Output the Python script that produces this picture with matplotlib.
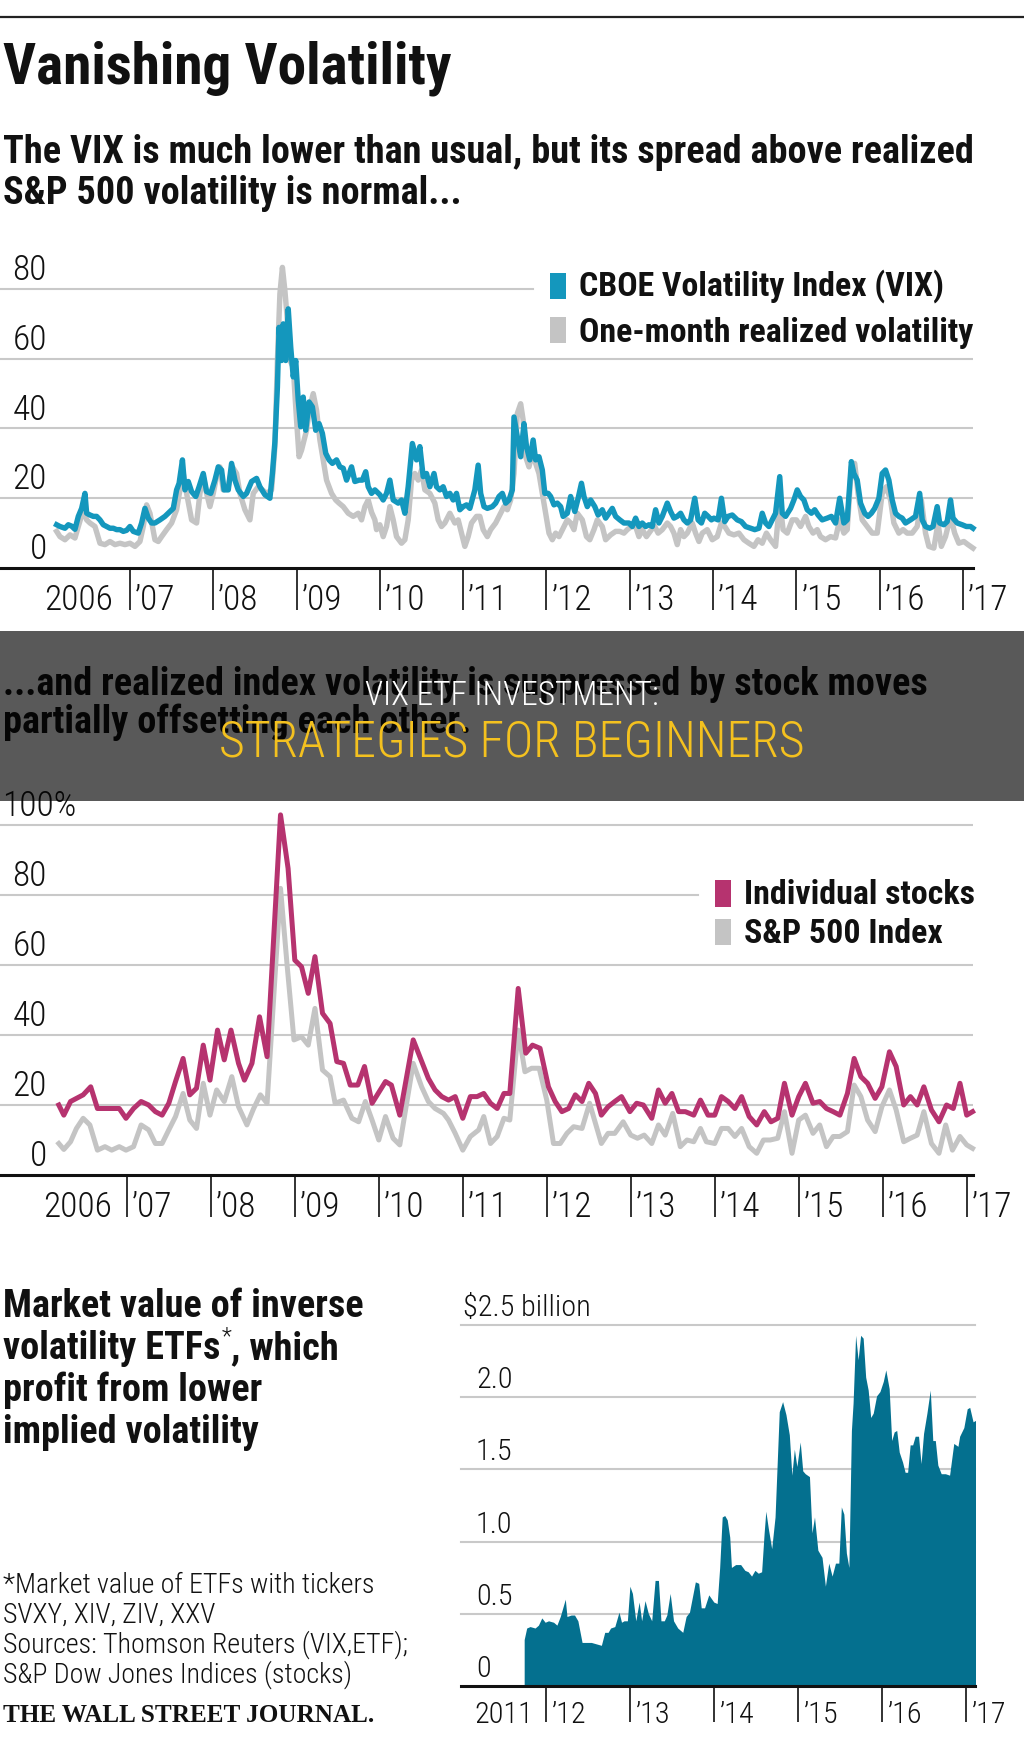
import matplotlib
matplotlib.use('Agg')
import matplotlib.pyplot as plt
import matplotlib.transforms as mtransforms
from matplotlib import font_manager as fm
from matplotlib.patches import Rectangle
from matplotlib.lines import Line2D

# ------------------------------------------------------------------ data
# Chart 1: CBOE VIX and one-month realized S&P 500 volatility (decimal year, value)
vix = [(2006.12,12.4),(2006.16,11.9),(2006.22,11.4),(2006.26,12.4),(2006.30,12.0),(2006.34,11.1),(2006.38,14.8),(2006.42,17.1),(2006.46,21.4),(2006.48,15.7),(2006.52,15.2),(2006.56,14.8),(2006.60,14.8),(2006.64,13.8),(2006.68,12.4),(2006.72,11.9),(2006.76,11.4),(2006.80,11.4),(2006.84,11.0),(2006.88,11.0),(2006.92,10.5),(2006.96,10.8),(2007.00,11.9),(2007.04,10.5),(2007.10,10.0),(2007.14,12.9),(2007.18,17.1),(2007.22,14.3),(2007.26,12.9),(2007.30,12.9),(2007.36,13.8),(2007.42,14.8),(2007.48,16.2),(2007.52,17.1),(2007.56,22.4),(2007.59,24.3),(2007.63,31.0),(2007.66,22.4),(2007.70,24.8),(2007.74,21.9),(2007.79,20.5),(2007.83,23.3),(2007.88,27.1),(2007.92,21.9),(2007.97,21.4),(2008.02,25.2),(2008.06,29.0),(2008.10,28.1),(2008.13,22.4),(2008.18,22.4),(2008.22,30.0),(2008.26,25.2),(2008.30,22.4),(2008.36,20.5),(2008.40,21.4),(2008.46,24.8),(2008.52,25.7),(2008.56,23.3),(2008.62,21.0),(2008.68,20.0),(2008.71,27.1),(2008.74,36.2),(2008.77,51.9),(2008.79,69.0),(2008.82,59.5),(2008.84,70.0),(2008.87,59.5),(2008.90,74.3),(2008.93,63.3),(2008.96,54.8),(2008.99,59.5),(2009.02,48.1),(2009.05,40.5),(2009.08,49.0),(2009.11,39.5),(2009.15,47.6),(2009.19,46.2),(2009.23,39.5),(2009.27,41.4),(2009.31,38.6),(2009.35,32.9),(2009.39,31.0),(2009.43,30.0),(2009.48,31.0),(2009.52,29.0),(2009.56,28.6),(2009.60,25.2),(2009.66,29.0),(2009.70,24.8),(2009.75,25.2),(2009.79,25.2),(2009.83,27.6),(2009.86,23.3),(2009.90,21.4),(2009.94,22.4),
       (2010.00,21.0),(2010.04,19.5),(2010.08,21.4),(2010.12,25.2),(2010.16,19.5),(2010.22,18.6),(2010.26,19.5),(2010.30,15.7),(2010.34,23.3),(2010.39,35.7),(2010.44,31.0),(2010.48,34.8),(2010.52,26.2),(2010.56,27.1),(2010.60,23.3),(2010.65,27.1),(2010.68,23.3),(2010.72,22.4),(2010.76,23.3),(2010.80,20.5),(2010.84,21.4),(2010.88,19.5),(2010.92,21.4),(2010.96,16.7),(2011.00,17.6),(2011.04,18.1),(2011.08,17.1),(2011.14,22.4),(2011.18,29.5),(2011.21,21.4),(2011.25,17.6),(2011.29,17.1),(2011.35,17.6),(2011.39,18.6),(2011.43,20.5),(2011.47,21.4),(2011.51,18.6),(2011.55,19.5),(2011.59,22.4),(2011.61,43.3),(2011.65,37.6),(2011.69,31.9),(2011.73,41.4),(2011.76,34.8),(2011.80,31.0),(2011.84,36.7),(2011.87,31.0),(2011.91,31.9),(2011.95,28.1),(2011.98,21.4),(2012.02,21.4),(2012.05,20.5),(2012.09,18.1),(2012.13,18.6),(2012.17,17.6),(2012.20,14.8),(2012.25,15.7),(2012.29,20.5),(2012.34,16.2),(2012.38,20.0),(2012.42,24.3),(2012.45,20.5),(2012.49,17.6),(2012.53,19.5),(2012.58,17.6),(2012.62,15.2),(2012.67,16.7),(2012.71,14.3),(2012.75,15.7),(2012.79,17.1),(2012.83,14.8),(2012.88,13.8),(2012.93,12.9),(2012.99,12.9),(2013.03,11.9),(2013.07,14.3),(2013.11,11.9),(2013.15,12.9),(2013.19,11.9),(2013.23,12.4),(2013.27,11.9),(2013.31,16.7),(2013.35,12.9),(2013.39,14.8),(2013.45,18.6),(2013.49,16.2),(2013.53,14.3),(2013.57,14.8),
       (2013.61,15.7),(2013.65,13.8),(2013.69,12.9),(2013.73,13.8),(2013.78,20.0),(2013.82,13.8),(2013.86,12.9),(2013.90,15.7),(2013.94,14.8),(2013.98,13.8),(2014.01,14.3),(2014.06,13.8),(2014.10,20.0),(2014.14,13.3),(2014.18,14.8),(2014.23,15.2),(2014.29,13.8),(2014.34,13.3),(2014.39,11.9),(2014.45,11.4),(2014.50,11.0),(2014.55,11.4),(2014.59,15.7),(2014.63,12.9),(2014.67,11.9),(2014.75,15.7),(2014.80,26.2),(2014.83,15.7),(2014.87,14.8),(2014.93,17.1),(2014.97,19.5),(2015.01,22.4),(2015.05,20.5),(2015.09,19.5),(2015.13,16.7),(2015.18,15.7),(2015.22,16.7),(2015.26,15.2),(2015.31,13.8),(2015.37,14.3),(2015.42,14.8),(2015.47,12.9),(2015.52,20.0),(2015.57,12.9),(2015.61,13.8),(2015.66,30.5),(2015.69,27.1),(2015.73,25.2),(2015.77,18.6),(2015.82,15.7),(2015.86,14.8),(2015.90,15.7),(2015.94,17.1),(2015.99,20.0),(2016.03,27.1),(2016.07,28.1),(2016.11,25.2),(2016.15,19.5),(2016.19,15.7),(2016.23,14.8),(2016.27,14.3),(2016.31,12.9),(2016.37,13.8),(2016.43,14.8),(2016.48,21.4),(2016.51,13.8),(2016.55,11.9),(2016.60,11.4),(2016.64,11.9),(2016.69,17.6),(2016.72,12.9),(2016.77,12.4),(2016.81,13.3),(2016.85,19.5),(2016.88,14.3),(2016.93,12.9),(2016.99,12.4),(2017.04,11.9),(2017.09,11.9),(2017.12,11.4)]

realized = [(2006.12,10.5),(2006.16,9.0),(2006.22,8.1),(2006.28,9.5),(2006.34,8.6),(2006.38,11.9),(2006.44,16.7),(2006.48,13.8),(2006.52,12.9),(2006.58,11.9),(2006.64,7.1),(2006.70,6.7),(2006.76,7.6),(2006.82,6.7),(2006.88,7.1),(2006.94,6.7),(2007.00,7.1),(2007.06,6.2),(2007.12,7.6),(2007.16,11.9),(2007.20,18.1),(2007.24,15.7),(2007.30,8.1),(2007.34,7.6),(2007.38,9.0),(2007.44,11.0),(2007.50,12.9),(2007.56,16.7),(2007.60,22.4),(2007.64,27.1),(2007.68,21.4),(2007.74,13.8),(2007.80,12.9),(2007.84,21.4),(2007.88,26.2),(2007.92,21.4),(2007.96,17.6),(2008.00,21.4),(2008.04,26.2),(2008.08,29.0),(2008.12,22.4),(2008.18,23.3),(2008.23,29.0),(2008.28,27.1),(2008.32,21.4),(2008.38,16.7),(2008.44,13.8),(2008.48,21.4),(2008.54,23.3),(2008.59,22.4),(2008.64,21.4),(2008.70,22.4),(2008.74,34.8),(2008.77,59.5),(2008.80,78.6),(2008.83,86.2),(2008.86,79.5),(2008.89,71.0),(2008.92,59.5),(2008.96,57.6),(2009.00,42.4),(2009.03,31.9),(2009.06,33.8),(2009.09,36.7),(2009.12,39.5),(2009.16,46.2),(2009.20,50.0),(2009.24,45.2),(2009.28,36.7),(2009.32,31.0),(2009.36,25.2),(2009.42,21.4),(2009.47,19.5),(2009.51,18.6),(2009.56,17.6),(2009.62,15.7),(2009.68,14.8),(2009.74,15.7),(2009.78,13.8),(2009.82,17.6),(2009.86,19.5),(2009.90,16.0),(2009.94,13.8),
            (2009.96,11.0),(2010.00,12.4),(2010.04,9.0),(2010.08,11.9),(2010.12,17.6),(2010.16,13.8),(2010.20,9.0),(2010.26,7.1),(2010.30,8.1),(2010.34,13.8),(2010.38,25.2),(2010.42,27.1),(2010.46,25.2),(2010.50,28.1),(2010.54,22.4),(2010.60,21.4),(2010.66,18.6),(2010.70,13.8),(2010.74,11.9),(2010.78,12.9),(2010.84,15.7),(2010.90,12.9),(2010.94,13.8),(2010.98,10.0),(2011.02,6.2),(2011.06,9.0),(2011.10,12.9),(2011.16,14.8),(2011.20,14.8),(2011.24,11.0),(2011.29,9.0),(2011.33,11.0),(2011.39,12.9),(2011.45,15.7),(2011.49,17.6),(2011.53,16.7),(2011.57,19.5),(2011.61,27.1),(2011.65,44.3),(2011.69,47.1),(2011.72,42.4),(2011.75,31.9),(2011.79,29.0),(2011.83,32.9),(2011.87,30.0),(2011.91,27.1),(2011.95,21.4),(2011.99,15.7),(2012.03,10.0),(2012.07,8.1),(2012.11,10.0),(2012.15,9.0),(2012.21,11.9),(2012.25,13.8),(2012.29,12.9),(2012.33,11.0),(2012.37,15.7),(2012.43,13.8),(2012.48,9.0),(2012.52,8.1),(2012.57,11.0),(2012.61,13.8),(2012.67,11.9),(2012.71,8.1),(2012.77,9.5),(2012.83,10.5),(2012.88,10.5),(2012.93,10.0),(2012.97,11.0),(2013.02,11.9),(2013.07,11.9),(2013.11,9.0),(2013.15,11.0),(2013.20,9.0),(2013.26,11.0),(2013.30,11.9),(2013.34,10.0),(2013.39,11.0),(2013.45,12.9),(2013.49,11.9),(2013.53,10.0),(2013.57,6.7),
            (2013.61,11.0),(2013.65,9.0),(2013.69,10.0),(2013.75,12.9),(2013.79,10.0),(2013.83,7.6),(2013.87,10.0),(2013.93,11.0),(2013.99,8.1),(2014.05,9.0),(2014.10,12.9),(2014.14,11.9),(2014.19,10.0),(2014.25,9.5),(2014.31,10.0),(2014.37,8.1),(2014.43,7.1),(2014.49,6.2),(2014.54,8.1),(2014.59,7.1),(2014.64,10.0),(2014.69,8.1),(2014.75,6.2),(2014.80,19.5),(2014.84,11.0),(2014.89,10.0),(2014.95,13.8),(2015.00,13.8),(2015.05,11.9),(2015.11,14.8),(2015.15,11.9),(2015.20,10.0),(2015.25,11.0),(2015.29,9.0),(2015.35,8.1),(2015.41,9.0),(2015.47,8.6),(2015.52,13.8),(2015.57,10.0),(2015.61,11.0),(2015.66,29.0),(2015.70,30.0),(2015.74,21.4),(2015.79,13.8),(2015.85,11.9),(2015.91,10.0),(2015.97,10.0),(2016.03,21.4),(2016.08,23.3),(2016.13,19.5),(2016.17,12.9),(2016.23,10.0),(2016.28,11.0),(2016.33,10.0),(2016.39,10.0),(2016.45,11.9),(2016.50,19.5),(2016.55,10.0),(2016.59,6.2),(2016.65,5.7),(2016.70,12.9),(2016.74,6.2),(2016.79,9.0),(2016.85,14.8),(2016.90,10.0),(2016.95,7.1),(2017.01,7.6),(2017.06,6.7),(2017.12,5.7)]

# Chart 2: realized volatility, individual stocks vs S&P 500 index (%)
stocks = [(2006.19,20.0),(2006.25,17.1),(2006.33,21.0),(2006.40,21.9),(2006.48,22.9),(2006.57,25.2),(2006.65,19.0),(2006.74,19.0),(2006.82,19.0),(2006.91,19.0),(2006.99,16.2),(2007.08,19.0),(2007.17,21.0),(2007.26,20.0),(2007.34,18.1),(2007.42,17.1),(2007.50,20.5),(2007.58,26.7),(2007.67,33.3),(2007.75,22.9),(2007.83,24.8),(2007.91,37.1),(2007.99,27.1),(2008.08,41.4),(2008.16,32.9),(2008.24,41.4),(2008.33,31.9),(2008.40,27.1),(2008.49,31.9),(2008.58,45.2),(2008.67,33.8),(2008.83,102.9),(2008.92,87.6),(2009.00,61.4),(2009.08,59.5),(2009.16,51.9),(2009.24,62.4),(2009.33,46.2),(2009.42,43.3),(2009.50,32.4),(2009.58,31.9),(2009.66,25.7),(2009.75,25.7),(2009.83,31.0),(2009.92,20.5),(2010.08,26.7),(2010.15,25.7),(2010.25,17.1),(2010.41,38.6),(2010.59,27.6),(2010.67,24.3),(2010.75,22.4),(2010.83,21.4),(2010.91,22.4),(2011.00,16.2),(2011.09,22.4),(2011.17,22.4),(2011.25,23.3),(2011.33,20.5),(2011.41,19.0),(2011.49,23.3),(2011.56,23.3),(2011.66,53.3),(2011.75,34.8),(2011.83,37.1),(2011.92,36.2),(2012.02,25.2),(2012.10,21.0),(2012.18,18.1),(2012.26,19.0),(2012.34,22.9),(2012.42,21.0),(2012.50,26.2),(2012.58,23.3),(2012.65,17.1),(2012.73,19.5),(2012.81,21.0),(2012.89,22.4),(2012.99,18.1),(2013.07,20.5),(2013.15,20.0),(2013.25,16.2),(2013.33,24.3),(2013.41,20.5),(2013.49,23.3),(2013.57,18.1),(2013.65,18.1),(2013.75,17.1),(2013.83,21.4),(2013.92,17.1),(2014.00,17.1),(2014.08,22.4),(2014.16,21.0),(2014.24,19.0),(2014.32,22.4),(2014.41,16.7),(2014.50,14.3),(2014.59,18.1),(2014.67,15.2),(2014.75,16.2),(2014.83,26.2),(2014.92,17.1),(2015.00,22.4),(2015.08,26.2),(2015.17,20.5),(2015.25,21.0),(2015.33,19.0),(2015.41,18.1),(2015.49,17.1),(2015.58,23.3),(2015.66,33.3),(2015.74,28.1),(2015.82,26.2),(2015.91,21.9),(2015.99,25.2),(2016.08,35.2),(2016.16,31.0),(2016.25,20.0),(2016.33,22.4),(2016.41,20.0),(2016.49,25.2),(2016.58,18.6),(2016.67,15.2),(2016.76,20.0),(2016.84,19.0),(2016.92,26.2),(2017.00,17.1),(2017.07,18.1)]

spx = [(2006.19,9.0),(2006.25,7.3),(2006.33,9.5),(2006.40,13.3),(2006.48,16.2),(2006.56,14.3),(2006.65,7.1),(2006.74,8.1),(2006.82,7.1),(2006.91,8.1),(2006.99,7.1),(2007.08,8.1),(2007.17,14.3),(2007.26,12.9),(2007.34,9.0),(2007.42,9.0),(2007.50,12.9),(2007.58,16.7),(2007.67,23.3),(2007.75,15.7),(2007.83,13.3),(2007.91,26.2),(2007.99,17.1),(2008.07,24.3),(2008.16,21.0),(2008.25,28.1),(2008.33,19.5),(2008.43,14.3),(2008.51,19.0),(2008.59,22.9),(2008.67,20.5),(2008.83,81.9),(2008.91,59.5),(2008.99,38.6),(2009.08,39.5),(2009.16,37.1),(2009.24,47.6),(2009.33,30.0),(2009.42,28.1),(2009.48,20.5),(2009.58,21.4),(2009.68,16.2),(2009.76,15.2),(2009.84,21.0),(2009.92,15.7),(2010.00,10.0),(2010.08,16.7),(2010.17,10.5),(2010.25,8.6),(2010.41,31.9),(2010.51,25.2),(2010.59,21.0),(2010.67,19.0),(2010.77,17.6),(2010.83,15.7),(2010.91,11.9),(2011.00,7.1),(2011.09,11.0),(2011.19,12.9),(2011.25,16.7),(2011.33,9.0),(2011.41,11.0),(2011.49,16.2),(2011.56,15.7),(2011.66,41.4),(2011.74,29.5),(2011.82,30.5),(2011.91,30.5),(2012.00,21.4),(2012.08,9.0),(2012.16,9.0),(2012.24,11.9),(2012.32,13.8),(2012.42,13.3),(2012.51,20.5),(2012.58,14.8),(2012.65,9.0),(2012.73,11.9),(2012.81,11.9),(2012.91,15.2),(2013.00,11.4),(2013.08,10.5),(2013.16,11.4),(2013.25,9.0),(2013.33,14.3),(2013.41,11.4),(2013.50,17.6),(2013.59,8.1),(2013.67,10.0),(2013.75,9.5),(2013.83,13.3),(2013.90,9.5),(2014.00,9.0),(2014.08,13.3),(2014.16,13.3),(2014.24,11.0),(2014.32,13.3),(2014.41,8.1),(2014.50,6.2),(2014.58,10.0),(2014.66,10.0),(2014.75,10.5),(2014.83,18.1),(2014.92,6.2),(2015.00,15.7),(2015.08,17.1),(2015.17,11.9),(2015.25,14.3),(2015.33,8.1),(2015.41,11.0),(2015.49,11.0),(2015.58,12.4),(2015.66,25.7),(2015.74,22.4),(2015.82,15.7),(2015.91,12.4),(2015.99,19.5),(2016.08,24.3),(2016.16,18.6),(2016.25,9.5),(2016.33,10.5),(2016.41,11.4),(2016.49,18.1),(2016.58,9.0),(2016.67,6.2),(2016.75,14.3),(2016.83,7.1),(2016.92,11.0),(2017.00,8.6),(2017.07,7.6)]

# Chart 3: market value of inverse volatility ETFs ($ billion)
etf = [(2011.74,0.32),(2011.77,0.40),(2011.81,0.41),(2011.87,0.40),(2011.91,0.42),(2011.95,0.47),(2011.99,0.44),(2012.03,0.45),(2012.09,0.44),(2012.13,0.42),(2012.17,0.48),(2012.23,0.60),(2012.25,0.48),(2012.30,0.49),(2012.34,0.49),(2012.38,0.45),(2012.43,0.30),(2012.48,0.30),(2012.54,0.30),(2012.60,0.29),(2012.66,0.28),(2012.70,0.37),(2012.74,0.37),(2012.77,0.40),(2012.82,0.41),(2012.87,0.51),(2012.90,0.44),(2012.93,0.45),(2012.97,0.45),(2013.00,0.69),(2013.03,0.64),(2013.07,0.45),(2013.11,0.58),(2013.14,0.45),(2013.18,0.59),(2013.22,0.50),(2013.26,0.45),(2013.30,0.73),(2013.34,0.73),(2013.37,0.45),(2013.41,0.45),(2013.44,0.49),(2013.48,0.64),(2013.52,0.45),(2013.57,0.40),(2013.63,0.37),(2013.67,0.48),(2013.71,0.51),(2013.78,0.72),(2013.82,0.71),(2013.85,0.54),(2013.89,0.54),(2013.94,0.63),(2014.00,0.58),(2014.04,0.57),(2014.07,0.82),(2014.10,1.17),(2014.13,1.18),(2014.16,1.15),(2014.19,1.03),(2014.21,0.82),(2014.26,0.84),(2014.32,0.84),(2014.37,0.80),(2014.41,0.79),(2014.45,0.76),(2014.49,0.80),(2014.53,0.78),(2014.57,0.79),(2014.60,1.06),(2014.62,1.21),(2014.65,1.09),(2014.69,0.95),(2014.73,1.17),(2014.78,1.90),(2014.82,1.97),(2014.86,1.88),(2014.90,1.74),(2014.93,1.46),(2014.96,1.64),(2014.99,1.52),(2015.03,1.69),(2015.06,1.49),(2015.09,1.47),(2015.14,1.45),(2015.17,1.06),(2015.20,1.17),(2015.24,0.94),(2015.29,0.89),(2015.33,0.69),(2015.37,0.85),(2015.41,0.76),(2015.45,0.85),(2015.49,0.85),(2015.52,1.24),(2015.55,1.19),(2015.58,0.92),(2015.61,0.82),(2015.64,1.77),(2015.66,1.96),(2015.69,2.43),(2015.72,2.26),(2015.75,2.43),(2015.78,2.41),(2015.81,2.14),(2015.84,2.05),(2015.87,1.86),(2015.90,1.89),(2015.94,2.01),(2015.98,2.04),(2016.02,2.11),(2016.05,2.19),(2016.09,2.06),(2016.12,1.70),(2016.15,1.76),(2016.18,1.77),(2016.21,1.62),(2016.25,1.55),(2016.28,1.48),(2016.31,1.48),(2016.34,1.67),(2016.37,1.67),(2016.40,1.73),(2016.44,1.73),(2016.47,1.54),(2016.50,1.75),(2016.54,1.89),(2016.58,2.05),(2016.61,1.70),(2016.64,1.70),(2016.67,1.53),(2016.71,1.47),(2016.76,1.47),(2016.81,1.46),(2016.86,1.68),(2016.91,1.66),(2016.93,1.73),(2016.98,1.79),(2017.02,1.92),(2017.05,1.93),(2017.09,1.83),(2017.12,1.84)]

# axis ticks / labels
years12 = [2007, 2008, 2009, 2010, 2011, 2012, 2013, 2014, 2015, 2016, 2017]
year_labels12 = ['\u201907', '\u201908', '\u201909', '\u201910', '\u201911', '\u201912', '\u201913', '\u201914', '\u201915', '\u201916', '\u201917']
first_year12, first_label12 = 2006, '2006'
years3 = [2012, 2013, 2014, 2015, 2016, 2017]
year_labels3 = ['\u201912', '\u201913', '\u201914', '\u201915', '\u201916', '\u201917']
first_year3, first_label3 = 2011, '2011'
yvals1 = [0, 20, 40, 60, 80]
ylabels1 = ['0', '20', '40', '60', '80']
yvals2 = [0, 20, 40, 60, 80, 100]
ylabels2 = ['0', '20', '40', '60', '80', '100%']
yvals3 = [0, 0.5, 1.0, 1.5, 2.0, 2.5]
ylabels3 = ['0', '0.5', '1.0', '1.5', '2.0', '$2.5 billion']

title = 'Vanishing Volatility'
sub1 = ['The VIX is much lower than usual, but its spread above realized',
        'S&P 500 volatility is normal...']
sub2 = ['...and realized index volatility is suppressed by stock moves',
        'partially offsetting each other.']
legend1 = ['CBOE Volatility Index (VIX)', 'One-month realized volatility']
legend2 = ['Individual stocks', 'S&P 500 Index']
side3 = ['Market value of inverse', 'volatility ETFs', ', which', 'profit from lower', 'implied volatility']
notes = ['*Market value of ETFs with tickers', 'SVXY, XIV, ZIV, XXV',
         'Sources: Thomson Reuters (VIX,ETF);', 'S&P Dow Jones Indices (stocks)']
source = 'THE WALL STREET JOURNAL.'
overlay = ['VIX ETF INVESTMENT:', 'STRATEGIES FOR BEGINNERS']

# ------------------------------------------------------------------ style
BLUE = '#1497bd'
GREY = '#c4c4c4'
MAG = '#b6336f'
TEAL = '#04708f'
GRID = '#c9c9c9'
INK = '#111111'
YELLOW = '#f4c11f'

ttf = fm.fontManager.ttflist
names = {f.name for f in ttf}
cond_dejavu = any(f.name == 'DejaVu Sans' and 'condensed' in str(f.stretch).lower() for f in ttf)
if 'Roboto Condensed' in names:
    HEAD = dict(family='Roboto Condensed', weight='bold')
    LIGHT = dict(family='Roboto Condensed', weight='light')
elif 'Liberation Sans Narrow' in names:
    HEAD = dict(family='Liberation Sans Narrow', weight='bold')
    LIGHT = dict(family='Liberation Sans Narrow', weight='normal')
elif 'Open Sans Condensed' in names:
    HEAD = dict(family='Open Sans Condensed', weight='bold')
    LIGHT = dict(family='Open Sans Condensed', weight='light')
elif cond_dejavu:
    HEAD = dict(family='DejaVu Sans', stretch='condensed', weight='bold')
    LIGHT = dict(family='DejaVu Sans', stretch='condensed', weight='normal')
else:
    HEAD = dict(family='Roboto', weight='bold')
    LIGHT = dict(family='Roboto', weight='light')
SERIF = dict(family='Liberation Serif' if 'Liberation Serif' in names else 'DejaVu Serif', weight='bold')

W, H = 1024, 1760
fig = plt.figure(figsize=(W / 100, H / 100), dpi=100)
fig.patch.set_facecolor('white')
renderer = fig.canvas.get_renderer()


def size_for(s, width, fk):
    t = fig.text(0, 0, s, fontsize=20, **fk)
    w = t.get_window_extent(renderer).width
    t.remove()
    return 20 * width / w


def T(x, y, s, size, fk, **kw):
    kw.setdefault('color', INK)
    kw.setdefault('va', 'baseline')
    return fig.text(x / W, 1 - y / H, s, fontsize=size, **fk, **kw)


def axes_px(x0, x1, ytop, ybot):
    return fig.add_axes([x0 / W, 1 - ybot / H, (x1 - x0) / W, (ybot - ytop) / H])


s_title = size_for(title, 448, HEAD)
s_sub = size_for(sub1[0], 968, HEAD)
s_leg = size_for(legend1[0], 365, HEAD)
s_side = size_for(side3[0], 360, HEAD)
s_tick = size_for('2006', 69, LIGHT)
s_tick3 = size_for('2011', 59, LIGHT)
s_note = size_for(notes[2], 405, LIGHT)
s_wsj = size_for(source, 369, SERIF)
s_ov1 = size_for(overlay[0], 294, LIGHT)
s_ov2 = size_for(overlay[1], 585, LIGHT)

# ------------------------------------------------------------------ texts
fig.add_artist(Line2D([0, 1], [1 - 17 / H] * 2, color='#222222', lw=1.6, transform=fig.transFigure))
T(3, 83, title, s_title, HEAD)
T(3, 163, sub1[0], s_sub, HEAD)
T(3, 204, sub1[1], s_sub, HEAD)
T(3, 695, sub2[0], s_sub, HEAD)
T(3, 733, sub2[1], s_sub, HEAD)

# legends
fig.add_artist(Rectangle((550 / W, 1 - 299 / H), 16 / W, 26 / H, transform=fig.transFigure, color=BLUE, lw=0))
fig.add_artist(Rectangle((550 / W, 1 - 343 / H), 16 / W, 26 / H, transform=fig.transFigure, color=GREY, lw=0))
T(579, 296, legend1[0], s_leg, HEAD)
T(579, 342, legend1[1], s_leg, HEAD)
fig.add_artist(Rectangle((715 / W, 1 - 907 / H), 16 / W, 27 / H, transform=fig.transFigure, color=MAG, lw=0))
fig.add_artist(Rectangle((715 / W, 1 - 945 / H), 16 / W, 26 / H, transform=fig.transFigure, color=GREY, lw=0))
T(744, 904, legend2[0], s_leg, HEAD)
T(744, 943, legend2[1], s_leg, HEAD)

# side title of chart 3 (with the footnote asterisk set small and light)
T(3, 1317, side3[0], s_side, HEAD)
t_etf = T(3, 1359, side3[1], s_side, HEAD)
w_etf = t_etf.get_window_extent(renderer).width
t_ast = T(3 + w_etf + 1, 1343, '*', s_side * 0.6, LIGHT)
w_ast = t_ast.get_window_extent(renderer).width
T(3 + w_etf + w_ast + 1, 1359, side3[2], s_side, HEAD)
T(3, 1401, side3[3], s_side, HEAD)
T(3, 1443, side3[4], s_side, HEAD)

for i, line in enumerate(notes):
    T(3, 1593 + i * 30, line, s_note, LIGHT)
T(3, 1722, source, s_wsj, SERIF)


# ------------------------------------------------------------------ axes helpers
def setup(ax, xlim, ylim, years, tick_len):
    ax.set_xlim(*xlim)
    ax.set_ylim(*ylim)
    for sp in ax.spines.values():
        sp.set_visible(False)
    ax.patch.set_alpha(0)
    ax.set_xticks(years)
    ax.set_xticklabels([])
    ax.set_yticks([])
    ax.tick_params(axis='x', length=tick_len, width=1.3, color='#222222', direction='out')
    ax.axhline(0, color=INK, lw=2.2, zorder=5, clip_on=False)


def xlabels(ax, first_year, first_label, first_dx, years, labels, dy, size):
    def tr(dx):
        return mtransforms.offset_copy(ax.get_xaxis_transform(), fig=fig, x=dx, y=-dy, units='dots')
    ax.text(first_year, 0, first_label, transform=tr(first_dx), ha='left', va='baseline',
            fontsize=size, color=INK, **LIGHT)
    for yr, lab in zip(years, labels):
        ax.text(yr, 0, lab, transform=tr(5), ha='left', va='baseline', fontsize=size, color=INK, **LIGHT)


def ylabels(ax, vals, labels, xfrac, ha, size, dy=9):
    tr = mtransforms.offset_copy(ax.get_yaxis_transform(), fig=fig, x=0, y=dy, units='dots')
    for v, lab in zip(vals, labels):
        if lab.endswith('%'):
            ax.text(0.002, v, lab, transform=tr, ha='left', va='baseline', fontsize=size, color=INK, **LIGHT)
        else:
            ax.text(xfrac, v, lab, transform=tr, ha=ha, va='baseline', fontsize=size, color=INK, **LIGHT)


# ------------------------------------------------------------------ chart 1
ax1 = axes_px(0, 973, 568 - 90 * 3.4875, 568)
setup(ax1, (2005.44, 2017.12), (0, 90), years12, 30)
for v in yvals1[1:]:
    ax1.axhline(v, xmin=0, xmax=(533 / 973 if v == 80 else 1), color=GRID, lw=1.5, zorder=0.5)
t, v = zip(*realized)
ax1.plot(t, v, color=GREY, lw=3.9, solid_joinstyle='round', zorder=2, clip_on=False)
t, v = zip(*vix)
ax1.plot(t, v, color=BLUE, lw=3.9, solid_joinstyle='round', zorder=3, clip_on=False)
xlabels(ax1, first_year12, first_label12, -3, years12, year_labels12, 42, s_tick)
ylabels(ax1, yvals1, ylabels1, 47 / 973, 'right', s_tick)

# ------------------------------------------------------------------ chart 2
ax2 = axes_px(0, 973, 1175 - 106 * 3.5, 1175)
setup(ax2, (2005.49, 2017.075), (0, 106), years12, 30)
for v in yvals2[1:]:
    ax2.axhline(v, xmin=0, xmax=(698 / 973 if v == 80 else 1), color=GRID, lw=1.5, zorder=0.5)
t, v = zip(*spx)
ax2.plot(t, v, color=GREY, lw=3.6, solid_joinstyle='round', zorder=2, clip_on=False)
t, v = zip(*stocks)
ax2.plot(t, v, color=MAG, lw=3.6, solid_joinstyle='round', zorder=3, clip_on=False)
xlabels(ax2, first_year12, first_label12, 0, years12, year_labels12, 42, s_tick)
ylabels(ax2, yvals2, ylabels2, 47 / 973, 'right', s_tick)

# ------------------------------------------------------------------ chart 3
ax3 = axes_px(461, 975, 1685.7 - 2.55 * 144.2, 1685.7)
setup(ax3, (2010.987, 2017.113), (0, 2.55), years3, 26)
for v in yvals3[1:]:
    ax3.axhline(v, color=GRID, lw=1.5, zorder=0.5, clip_on=False)
t, v = zip(*etf)
ax3.fill_between(t, v, 0, color=TEAL, lw=0, zorder=2)
xlabels(ax3, first_year3, first_label3, 12, years3, year_labels3, 37, s_tick3)
ylabels(ax3, yvals3[:-1], ylabels3[:-1], 15 / 514, 'left', s_tick3)
ylabels(ax3, yvals3[-1:], ylabels3[-1:], 2 / 514, 'left', s_tick3)

# ------------------------------------------------------------------ overlay banner
fig.add_artist(Rectangle((0, 1 - 801 / H), 1, 170 / H, transform=fig.transFigure,
                         facecolor='black', alpha=0.65, edgecolor='none', zorder=20))
T(512, 705, overlay[0], s_ov1, LIGHT, color='white', ha='center', zorder=21)
T(512, 756, overlay[1], s_ov2, LIGHT, color=YELLOW, ha='center', zorder=21)

fig.savefig('out.png', dpi=100, facecolor='white')
